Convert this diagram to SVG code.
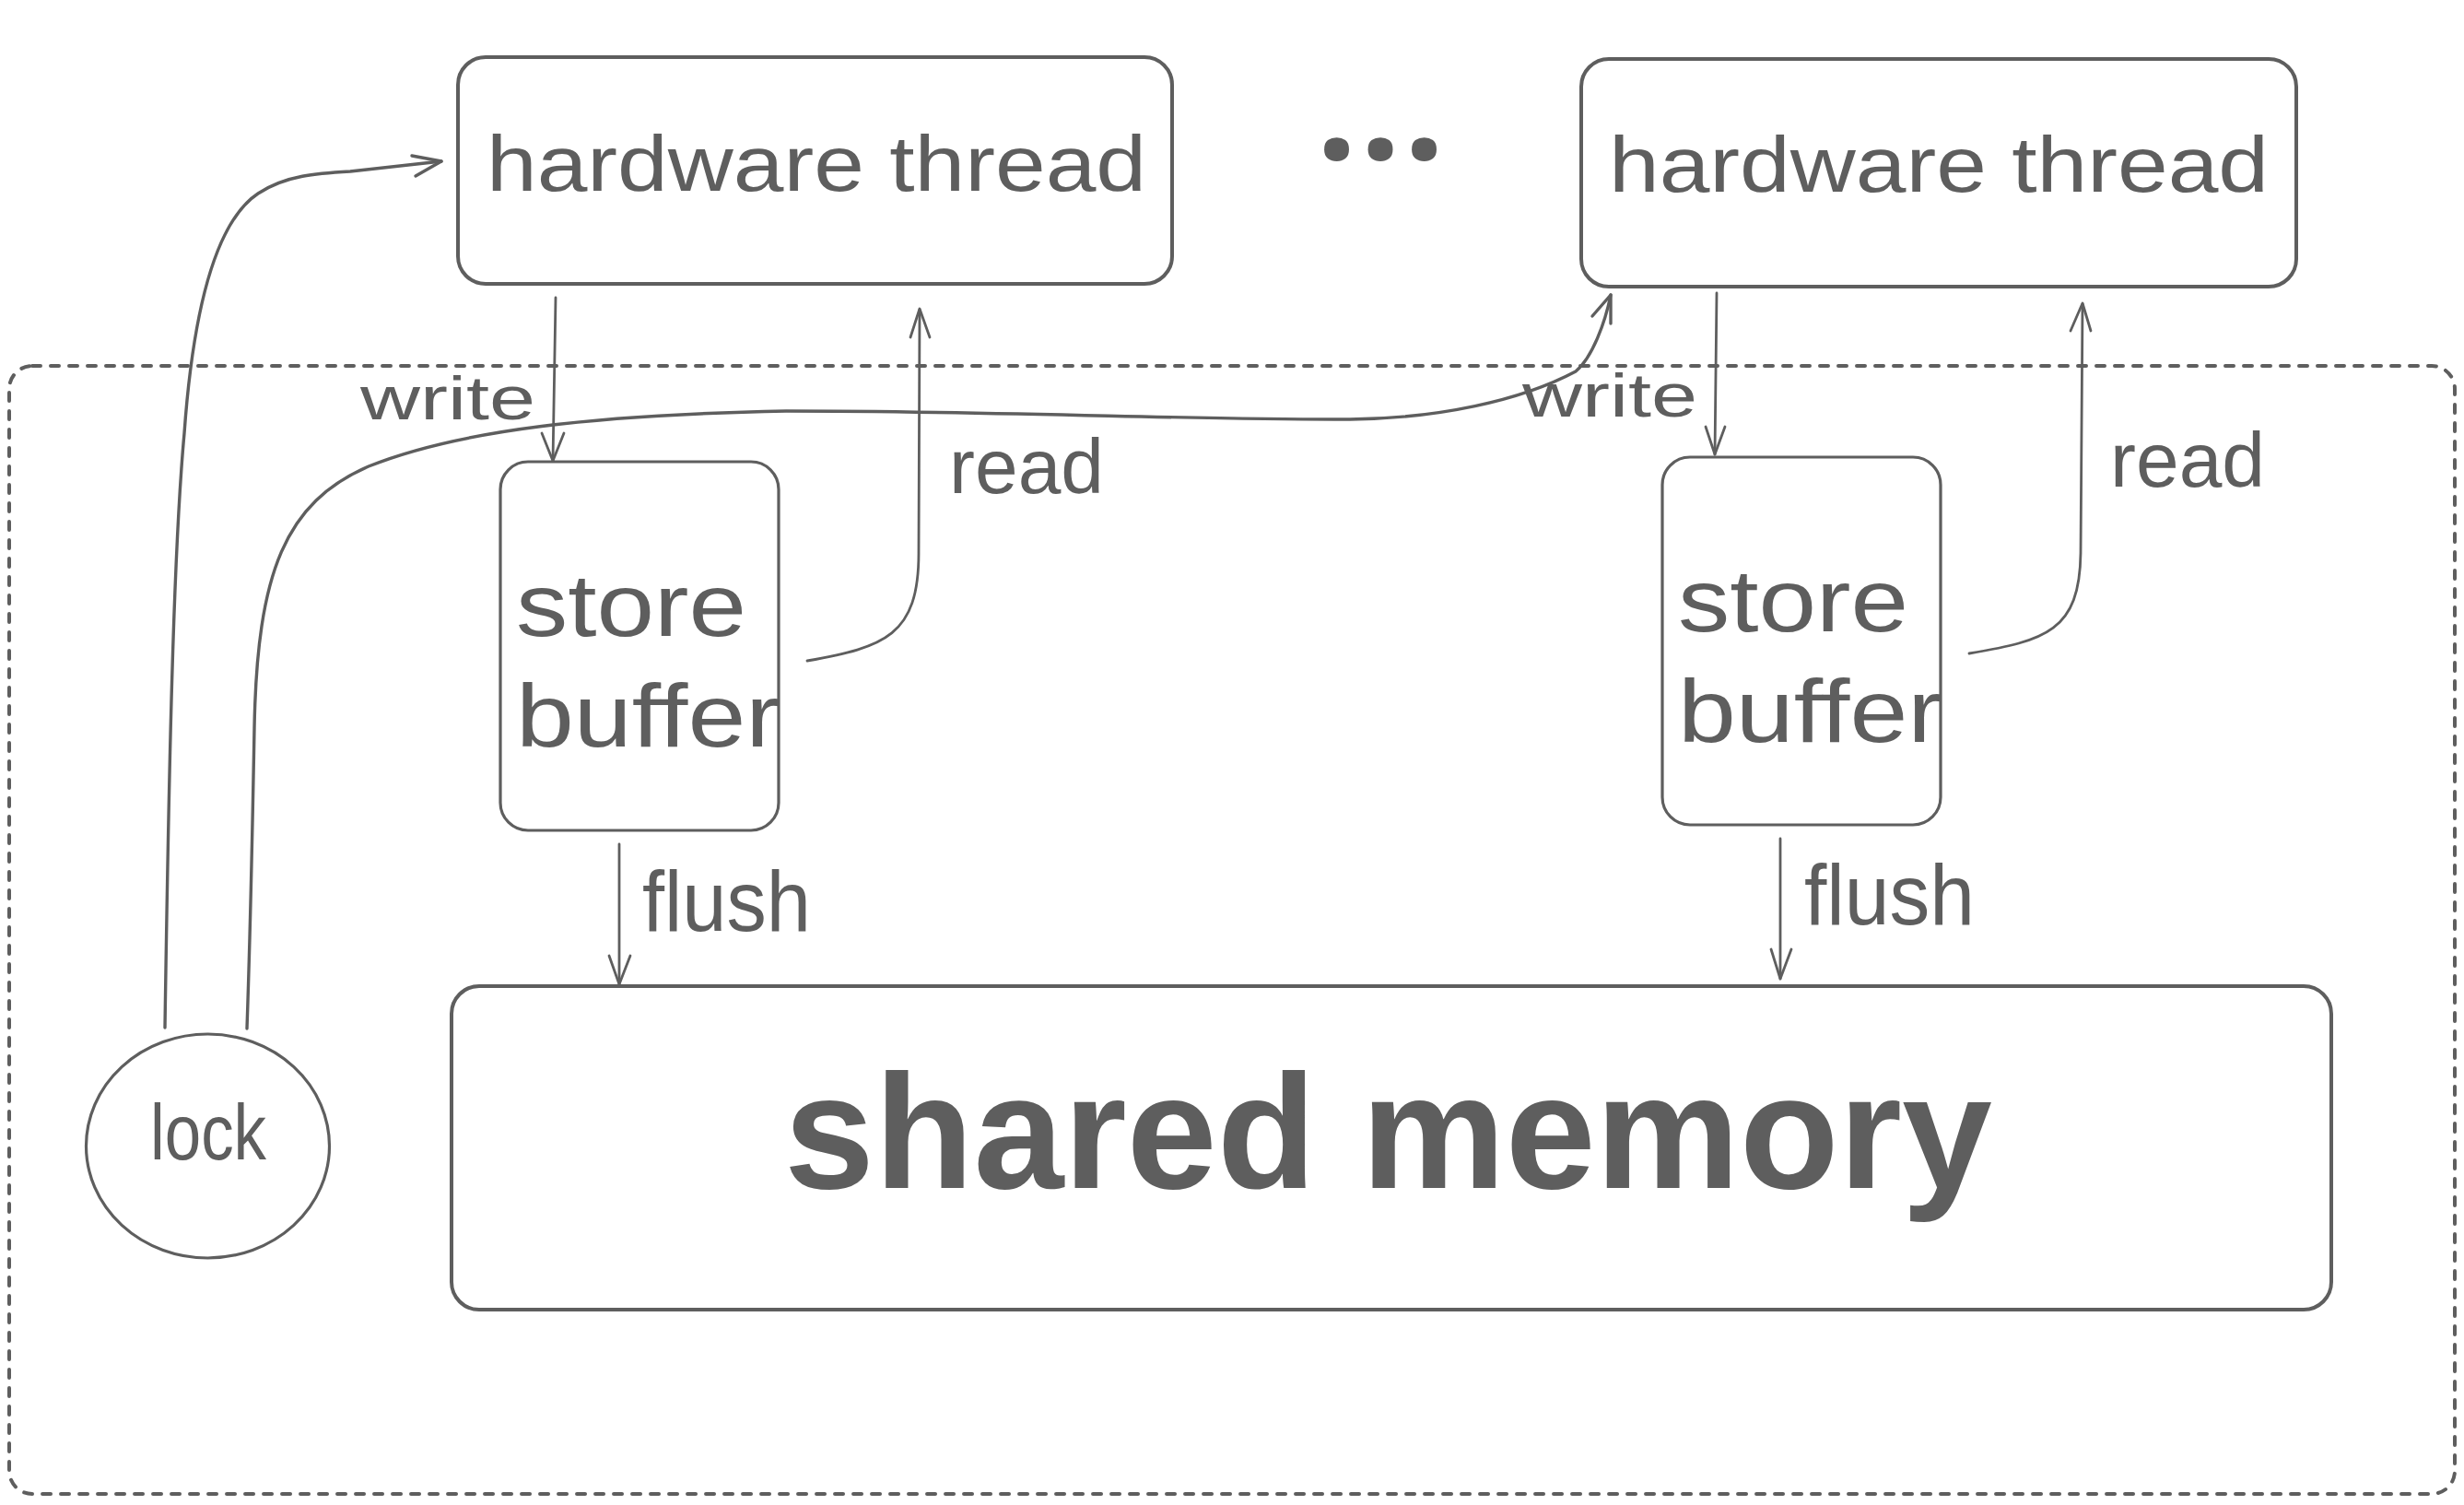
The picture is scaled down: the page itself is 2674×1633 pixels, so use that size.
<svg xmlns="http://www.w3.org/2000/svg" width="2674" height="1633" viewBox="0 0 2674 1633">
<defs>
<style>
.box{fill:none;stroke:#5e5e5e;stroke-width:4;}
.sb{fill:none;stroke:#5e5e5e;stroke-width:3.2;}
.dash{fill:none;stroke:#5e5e5e;stroke-width:4;stroke-dasharray:9 11;stroke-linecap:round;}
.line{fill:none;stroke:#5e5e5e;stroke-width:2.8;stroke-linecap:round;stroke-linejoin:round;}
.curve{fill:none;stroke:#5e5e5e;stroke-width:3.4;stroke-linecap:round;stroke-linejoin:round;}
.t{font-family:"Liberation Sans",Arial,sans-serif;fill:#5e5e5e;}
</style>
</defs>
<rect width="2674" height="1633" fill="#ffffff"/>

<g id="boundary">
<rect class="dash" x="10" y="397" width="2654" height="1224" rx="25"/>
</g>

<g id="hardware-thread-1">
<rect class="box" x="497" y="62" width="775" height="246" rx="30"/>
<text class="t" x="528" y="207" font-size="86" textLength="716" lengthAdjust="spacingAndGlyphs">hardware thread</text>
</g>

<g id="ellipsis">
<text x="1500" y="173" text-anchor="middle" font-family="'Noto Sans',sans-serif" font-weight="bold" font-size="155" letter-spacing="4" fill="#5e5e5e">...</text>
</g>

<g id="hardware-thread-2">
<rect class="box" x="1716" y="64" width="776" height="247" rx="30"/>
<text class="t" x="1746" y="208" font-size="86" textLength="716" lengthAdjust="spacingAndGlyphs">hardware thread</text>
</g>

<g id="store-buffer-1">
<rect class="sb" x="543" y="501" width="302" height="400" rx="30"/>
<text class="t" x="560" y="690" font-size="96" textLength="250" lengthAdjust="spacingAndGlyphs">store</text>
<text class="t" x="560" y="810" font-size="96" textLength="287" lengthAdjust="spacingAndGlyphs">buffer</text>
</g>

<g id="store-buffer-2">
<rect class="sb" x="1804" y="496" width="302" height="399" rx="30"/>
<text class="t" x="1821" y="685" font-size="96" textLength="250" lengthAdjust="spacingAndGlyphs">store</text>
<text class="t" x="1821" y="805" font-size="96" textLength="287" lengthAdjust="spacingAndGlyphs">buffer</text>
</g>

<g id="shared-memory">
<rect class="box" x="490" y="1070" width="2040" height="351" rx="30"/>
<text class="t" x="851" y="1289" font-size="176" font-weight="bold" textLength="1311" lengthAdjust="spacingAndGlyphs">shared memory</text>
</g>

<g id="lock">
<ellipse class="sb" cx="225.5" cy="1243.5" rx="132" ry="121.5"/>
<text class="t" x="163" y="1258" font-size="86" textLength="126" lengthAdjust="spacingAndGlyphs">lock</text>
</g>

<g id="connectors">
<!-- lock to hardware thread 1 -->
<path class="curve" d="M 179 1115 C 183 850, 188 600, 200 470 C 210 330, 235 240, 280 210 C 310 190, 345 188, 380 186 L 479 175"/>
<polyline class="curve" points="447,169 479,175 451,191"/>
<!-- lock to hardware thread 2 -->
<path class="curve" d="M 268 1116 C 272 1000, 274 900, 276 790 C 279 620, 310 545, 400 506 C 500 466, 650 450, 853 446 C 1100 446, 1300 456, 1465 455 C 1560 454, 1650 435, 1710 403 C 1728 388, 1742 350, 1748 320"/>
<polyline class="curve" points="1728,343 1748,320 1748,351"/>
<!-- HT1 write to SB1 -->
<line class="line" x1="603" y1="323" x2="600" y2="500"/>
<polyline class="line" points="588,470 600,500 612,470"/>
<!-- SB1 read to HT1 -->
<path class="line" d="M 876 717 C 960 702, 997 690, 997 600 L 998 336"/>
<polyline class="line" points="988,366 998,335 1009,366"/>
<!-- SB1 flush -->
<line class="line" x1="672" y1="916" x2="672" y2="1068"/>
<polyline class="line" points="661,1037 672,1068 684,1037"/>
<!-- HT2 write to SB2 -->
<line class="line" x1="1863" y1="318" x2="1861" y2="493"/>
<polyline class="line" points="1851,463 1861,493 1872,463"/>
<!-- SB2 read to HT2 -->
<path class="line" d="M 2137 709 C 2220 695, 2257 685, 2258 600 L 2260 330"/>
<polyline class="line" points="2247,359 2260,329 2269,359"/>
<!-- SB2 flush -->
<line class="line" x1="1932" y1="910" x2="1932" y2="1062"/>
<polyline class="line" points="1922,1030 1932,1062 1944,1030"/>
</g>

<g id="labels">
<text class="t" x="391" y="455" font-size="66" textLength="190" lengthAdjust="spacingAndGlyphs">write</text>
<text class="t" x="1652" y="452" font-size="66" textLength="190" lengthAdjust="spacingAndGlyphs">write</text>
<text class="t" x="1030" y="535" font-size="84" textLength="168" lengthAdjust="spacingAndGlyphs">read</text>
<text class="t" x="2290" y="528" font-size="84" textLength="168" lengthAdjust="spacingAndGlyphs">read</text>
<text class="t" x="697" y="1010" font-size="92" textLength="183" lengthAdjust="spacingAndGlyphs">flush</text>
<text class="t" x="1958" y="1003" font-size="92" textLength="185" lengthAdjust="spacingAndGlyphs">flush</text>
</g>
</svg>
